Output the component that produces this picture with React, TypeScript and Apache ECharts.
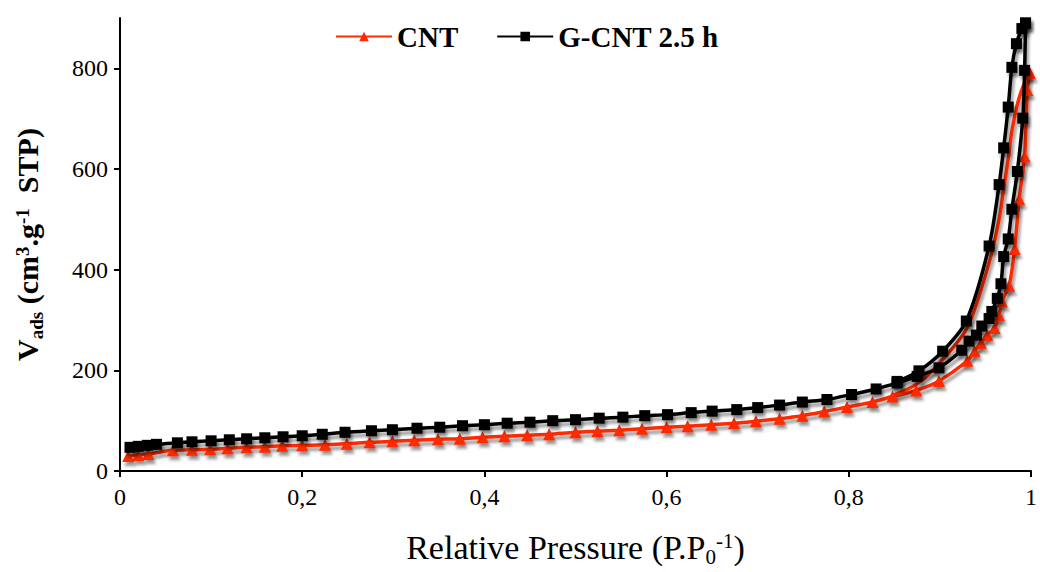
import React, { useEffect, useRef } from "react";
import * as echarts from "echarts";

// CNT adsorption branch [P/P0, Vads]
const cntAds: [number, number][] = [
  [0.009, 30], [0.02, 32], [0.031, 34], [0.058, 41], [0.079, 42], [0.099, 43],
  [0.118, 45], [0.139, 47], [0.159, 48], [0.178, 50], [0.2, 51], [0.225, 52],
  [0.249, 54], [0.274, 57], [0.299, 59], [0.323, 61], [0.349, 63], [0.373, 64],
  [0.398, 67], [0.422, 69], [0.447, 71], [0.471, 73], [0.5, 77], [0.524, 79],
  [0.548, 81], [0.573, 84], [0.6, 87], [0.623, 89], [0.649, 92], [0.674, 95],
  [0.698, 99], [0.724, 104], [0.749, 110], [0.773, 118], [0.798, 127],
  [0.826, 137], [0.848, 148], [0.874, 160], [0.899, 179], [0.93, 219],
  [0.938, 238], [0.945, 254], [0.952, 270], [0.96, 284], [0.965, 309],
  [0.968, 337], [0.976, 368], [0.982, 441], [0.987, 540], [0.993, 625],
  [0.996, 757], [0.999, 790],
];
// CNT desorption branch
const cntDes: [number, number][] = [
  [0.999, 790], [0.993, 772], [0.986, 735], [0.979, 675], [0.975, 620],
  [0.97, 560], [0.965, 500], [0.955, 420], [0.93, 285], [0.9, 215],
  [0.874, 172], [0.848, 150],
];
// G-CNT 2.5 h adsorption branch
const gcntAds: [number, number][] = [
  [0.011, 47], [0.02, 49], [0.03, 51], [0.04, 53], [0.063, 56], [0.079, 58],
  [0.1, 60], [0.12, 62], [0.139, 64], [0.159, 66], [0.179, 68], [0.2, 70],
  [0.222, 73], [0.247, 77], [0.276, 80], [0.299, 82], [0.326, 85], [0.351, 87],
  [0.376, 90], [0.4, 92], [0.425, 95], [0.45, 97], [0.475, 100], [0.5, 102],
  [0.526, 105], [0.552, 107], [0.576, 110], [0.601, 112], [0.627, 116],
  [0.65, 119], [0.677, 122], [0.7, 126], [0.724, 131], [0.749, 137],
  [0.776, 142], [0.803, 152], [0.83, 163], [0.853, 175], [0.875, 188],
  [0.899, 205], [0.924, 240], [0.932, 258], [0.94, 270], [0.946, 288],
  [0.954, 303], [0.957, 317], [0.963, 343], [0.967, 372], [0.97, 426],
  [0.975, 461], [0.979, 520], [0.985, 595], [0.991, 701], [0.993, 796],
  [0.994, 890],
];
// G-CNT 2.5 h desorption branch
const gcntDes: [number, number][] = [
  [0.994, 890], [0.99, 879], [0.984, 849], [0.979, 802], [0.975, 723],
  [0.97, 642], [0.965, 569], [0.954, 447], [0.929, 298], [0.903, 238],
  [0.877, 199], [0.853, 178],
];

const xTicks = [0, 0.2, 0.4, 0.6, 0.8, 1];
const xTickLabels = ["0", "0,2", "0,4", "0,6", "0,8", "1"];
const yTicks = [0, 200, 400, 600, 800];

const RED = "#ff2a00";
const FONT = "Liberation Serif";

export default function App() {
  const ref = useRef<HTMLDivElement>(null);
  useEffect(() => {
    const chart = echarts.init(ref.current!, undefined, { renderer: "svg" });
    const shadow = {
      shadowColor: "rgba(0,0,0,0.4)",
      shadowBlur: 3,
      shadowOffsetX: 2,
      shadowOffsetY: 4,
    };
    chart.setOption({
      animation: false,
      backgroundColor: "#fff",
      textStyle: { fontFamily: FONT },
      grid: { left: 120, right: 8, top: 18, bottom: 98 },
      legend: {
        data: ["CNT", "G-CNT 2.5 h"],
        left: 330,
        top: 17,
        itemWidth: 56,
        itemHeight: 12,
        itemGap: 38,
        textStyle: { fontFamily: FONT, fontWeight: "bold", fontSize: 29, color: "#000" },
      },
      xAxis: {
        type: "value",
        min: 0,
        max: 1,
        interval: 0.2,
        name: "{a|Relative Pressure (P.P}{sub|0}{sup|-1}{a|)}",
        nameLocation: "middle",
        nameGap: 56,
        nameTextStyle: {
          rich: {
            a: { fontFamily: FONT, fontSize: 34, color: "#000", lineHeight: 40 },
            sub: { fontFamily: FONT, fontSize: 21, color: "#000", lineHeight: 18, verticalAlign: "bottom" },
            sup: { fontFamily: FONT, fontSize: 21, color: "#000", verticalAlign: "middle", padding: [0, 0, 12, 0] },
          },
        },
        splitLine: { show: false },
        axisLine: { lineStyle: { color: "#000", width: 2 } },
        axisTick: { show: true, length: 6, inside: false, lineStyle: { color: "#000", width: 2 } },
        axisLabel: {
          fontFamily: FONT,
          fontSize: 24,
          color: "#000",
          margin: 14,
          formatter: (v: number) => {
            const i = xTicks.findIndex((t) => Math.abs(t - v) < 1e-6);
            return i >= 0 ? xTickLabels[i] : "";
          },
        },
      },
      yAxis: {
        type: "value",
        min: 0,
        max: 900,
        interval: 200,
        name: "{b|V}{s|ads}{b| (cm}{p|3}{b|.g}{p|-1}{b|  STP)}",
        nameLocation: "middle",
        nameGap: 74,
        nameRotate: 90,
        nameTextStyle: {
          rich: {
            b: { fontFamily: FONT, fontSize: 30, fontWeight: "bold", color: "#000", lineHeight: 38 },
            s: { fontFamily: FONT, fontSize: 19, fontWeight: "bold", color: "#000", lineHeight: 16, verticalAlign: "bottom" },
            p: { fontFamily: FONT, fontSize: 19, fontWeight: "bold", color: "#000", verticalAlign: "middle", padding: [0, 0, 10, 0] },
          },
        },
        splitLine: { show: false },
        axisLine: { show: true, lineStyle: { color: "#000", width: 2 } },
        axisTick: {
          show: true,
          length: 6,
          customValues: yTicks,
          lineStyle: { color: "#000", width: 2 },
        },
        axisLabel: {
          fontFamily: FONT,
          fontSize: 24,
          color: "#000",
          margin: 12,
          customValues: yTicks,
        },
      },
      series: [
        {
          name: "CNT",
          type: "line",
          data: cntAds,
          smooth: 0.3,
          symbol: "triangle",
          symbolSize: 12,
          z: 2,
          lineStyle: { color: RED, width: 3.5, ...shadow },
          itemStyle: { color: RED, ...shadow },
        },
        {
          name: "CNT",
          type: "line",
          data: cntDes,
          smooth: 0.3,
          showSymbol: false,
          symbol: "triangle",
          z: 2,
          lineStyle: { color: RED, width: 3.5, ...shadow },
          itemStyle: { color: RED },
        },
        {
          name: "G-CNT 2.5 h",
          type: "line",
          data: gcntAds,
          smooth: 0.3,
          symbol: "rect",
          symbolSize: 11,
          z: 3,
          lineStyle: { color: "#000", width: 3.5, ...shadow },
          itemStyle: { color: "#000", ...shadow },
        },
        {
          name: "G-CNT 2.5 h",
          type: "line",
          data: gcntDes,
          smooth: 0.3,
          symbol: "rect",
          symbolSize: 11,
          z: 3,
          lineStyle: { color: "#000", width: 3.5, ...shadow },
          itemStyle: { color: "#000", ...shadow },
        },
      ],
    });
    return () => chart.dispose();
  }, []);
  return (
    <div
      ref={ref}
      style={{ position: "absolute", left: 0, top: 0, width: 1040, height: 572 }}
    />
  );
}
